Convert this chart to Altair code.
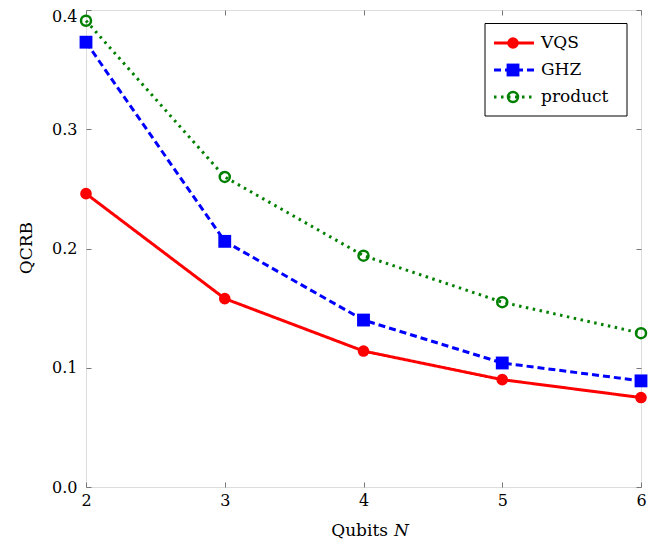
import altair as alt
import pandas as pd

qubits = [2, 3, 4, 5, 6]
vqs = [0.246, 0.158, 0.114, 0.090, 0.075]
ghz = [0.373, 0.206, 0.140, 0.104, 0.089]
product = [0.391, 0.260, 0.194, 0.155, 0.129]
series_names = ["VQS", "GHZ", "product"]
series_colors = ["#ff0000", "#0000ff", "#008000"]
x_ticks = [2, 3, 4, 5, 6]
y_ticks = [0.0, 0.1, 0.2, 0.3, 0.4]

FONT = "DejaVu Serif"
W, H = 555, 477
TOP = 2

rows = []
for name, vals in zip(series_names, [vqs, ghz, product]):
    for q, v in zip(qubits, vals):
        rows.append({"N": q, "QCRB": v, "series": name})
df = pd.DataFrame(rows)

xs = alt.Scale(domain=[2, 6], nice=False, zero=False)
ys = alt.Scale(domain=[0, 0.4], nice=False)

styles = {
    "VQS": dict(dash=[1, 0], shape="circle", filled=True, size=135),
    "GHZ": dict(dash=[7, 4], shape="square", filled=True, size=165),
    "product": dict(dash=[2.5, 4.5], shape="circle", filled=False, size=100),
}

axis_common = dict(
    tickSize=5, tickColor="#777777", tickWidth=1, domain=False, grid=False,
    labelFont=FONT, labelFontSize=16, labelColor="#000000", labelFlush=False,
    labelOverlap=False, title=None,
)

layers = []
for i, (name, color) in enumerate(zip(series_names, series_colors)):
    st = styles[name]
    sub = df[df.series == name]
    first = i == 0
    xaxis = alt.Axis(orient="bottom", offset=-5, values=x_ticks, labelPadding=5, **axis_common) if first else None
    yaxis = alt.Axis(
        orient="left", offset=-5, values=y_ticks, format=".1f", labelPadding=9,
        labelOffset={"condition": {"test": "datum.value > 0.39", "value": 6}, "value": 0},
        **axis_common,
    ) if first else None
    line = alt.Chart(sub).mark_line(color=color, strokeWidth=3, strokeDash=st["dash"], clip=False).encode(
        x=alt.X("N:Q", scale=xs, axis=xaxis),
        y=alt.Y("QCRB:Q", scale=ys, axis=yaxis),
    )
    layers.append(line)

# opposite-side inward ticks
opp_common = dict(axis_common)
opp_common.update(labels=False)
tick_layer = alt.Chart(df[df.series == "VQS"]).mark_point(opacity=0).encode(
    x=alt.X("N:Q", scale=xs, axis=alt.Axis(orient="top", offset=-5, values=x_ticks, **opp_common)),
    y=alt.Y("QCRB:Q", scale=ys, axis=alt.Axis(orient="right", offset=-5, values=y_ticks, **opp_common)),
)

for name, color in zip(series_names, series_colors):
    st = styles[name]
    sub = df[df.series == name]
    pts = alt.Chart(sub).mark_point(
        shape=st["shape"], filled=st["filled"], size=st["size"], color=color,
        strokeWidth=2.5, opacity=1, clip=False,
    ).encode(
        x=alt.X("N:Q", scale=xs, axis=None),
        y=alt.Y("QCRB:Q", scale=ys, axis=None),
    )
    layers.append(pts)

# custom legend (positions relative to plot area)
off = 10 - (8 + TOP)
leg_box = alt.Chart(pd.DataFrame({"a": [0]})).mark_rect(
    fill="white", stroke="#000000", strokeWidth=1
).encode(x=alt.value(399), x2=alt.value(541), y=alt.value(13.5 + off), y2=alt.value(106 + off))
layers.append(leg_box)
leg_y = [33 + off, 60 + off, 87 + off]
for name, color, yy in zip(series_names, series_colors, leg_y):
    st = styles[name]
    one = pd.DataFrame({"label": [name]})
    layers.append(alt.Chart(one).mark_rule(color=color, strokeWidth=3, strokeDash=st["dash"]).encode(
        x=alt.value(408), x2=alt.value(448), y=alt.value(yy)))
    layers.append(alt.Chart(one).mark_point(
        shape=st["shape"], filled=st["filled"], size=st["size"], color=color, strokeWidth=2.5, opacity=1
    ).encode(x=alt.value(427), y=alt.value(yy)))
    layers.append(alt.Chart(one).mark_text(
        align="left", baseline="middle", font=FONT, fontSize=17, color="#000000"
    ).encode(x=alt.value(455), y=alt.value(yy), text="label:N"))

# axis titles
layers.append(alt.Chart(pd.DataFrame({"t": ["Qubits"]})).mark_text(
    align="right", baseline="middle", font=FONT, fontSize=17, color="#000000"
).encode(x=alt.value(302), y=alt.value(521 + off), text="t:N"))
layers.append(alt.Chart(pd.DataFrame({"t": ["N"]})).mark_text(
    align="left", baseline="middle", font=FONT, fontSize=17, fontStyle="italic", color="#000000"
).encode(x=alt.value(308), y=alt.value(521 + off), text="t:N"))
layers.append(alt.Chart(pd.DataFrame({"t": ["QCRB"]})).mark_text(
    align="center", baseline="middle", font=FONT, fontSize=17, angle=270, color="#000000"
).encode(x=alt.value(-59), y=alt.value(238 + off), text="t:N"))

chart = alt.layer(tick_layer, *layers).resolve_axis(x="independent", y="independent").properties(
    width=W, height=H,
    autosize=alt.AutoSizeParams(type="none"),
    padding={"left": 78, "top": TOP, "right": 11, "bottom": 548 - 16 - TOP - H},
).configure_view(stroke="#000000", strokeWidth=1.2).configure(background="white")

chart.save("out.html", embed_options={"renderer": "svg", "actions": False})
